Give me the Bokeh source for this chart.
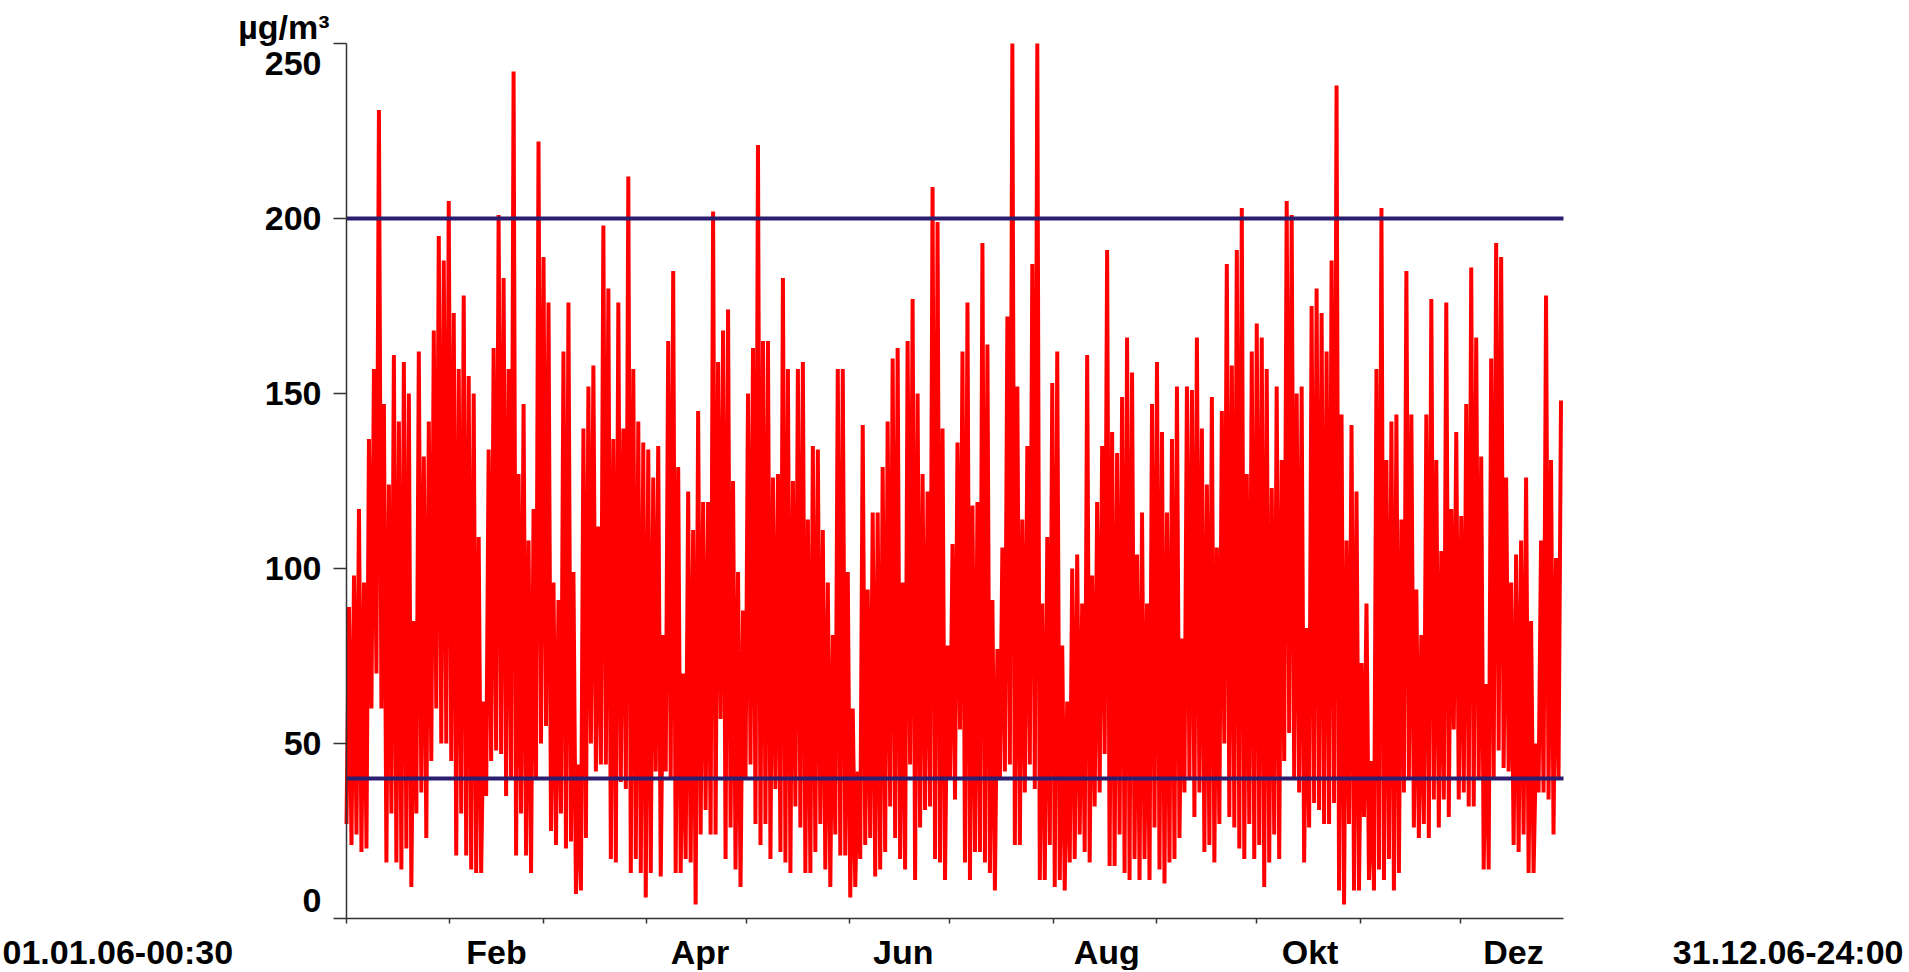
import numpy as np
from bokeh.plotting import figure
from bokeh.models import FixedTicker, Range1d
from bokeh.core.properties import value
from bokeh.embed import file_html
from bokeh.resources import INLINE

# Half-hourly series, read off the picture as alternating
# trough / peak values (one pair per ~1.5 days), in µg/m³
peaks = [89, 98, 117, 96, 137, 157, 231, 147, 124, 161,
         142, 159, 150, 85, 162, 132, 142, 168, 195, 188,
         205, 173, 157, 178, 155, 150, 109, 62, 134, 163,
         201, 183, 157, 242, 127, 147, 108, 117, 222, 189,
         176, 96, 91, 162, 176, 99, 44, 140, 152,
         158, 112, 198, 180, 137, 176, 140, 212, 157, 142,
         136, 134, 126, 135, 81, 165, 185, 129, 70, 122,
         111, 145, 119, 119, 202, 159, 168, 174, 125, 99,
         88, 150, 163, 221, 165, 165, 126, 127, 183, 157,
         125, 157, 159, 114, 135, 134, 111, 96, 81, 157,
         157, 99, 60, 42, 141, 94, 116, 116, 129, 142,
         160, 163, 96, 165, 177, 150, 127, 122, 209, 199,
         140, 78, 107, 136, 162, 176, 118, 119, 193, 164,
         91, 77, 106, 172, 250, 152, 114, 135, 187, 250,
         90, 109, 153, 162, 78, 62, 100, 104, 90, 161,
         98, 119, 135, 191, 139, 133, 149, 166, 156, 104,
         116, 90, 147, 159, 139, 116, 137, 152, 80, 152,
         151, 166, 140, 124, 149, 106, 145, 187, 158, 191,
         203, 127, 162, 170, 166, 157, 123, 152, 131, 205,
         201, 150, 152, 83, 175, 180, 173, 162,
         188, 238, 144, 108, 141, 122, 73, 90, 45, 157,
         203, 131, 142, 144, 114, 185, 144, 94, 81, 144,
         177, 131, 105, 176, 117, 139, 115, 147, 186, 166,
         132, 67, 160, 193, 189, 126, 96, 104, 108, 126,
         85, 50, 108, 178, 131, 103, 148]

troughs = [27, 21, 24, 19, 20, 60, 70, 60, 16, 30,
           16, 14, 20, 9, 30, 36, 23, 45, 60, 50,
           50, 45, 18, 30, 18, 14, 13, 13, 35, 45,
           48, 47, 35, 40, 18, 30, 18, 13, 40, 50,
           55, 25, 21, 30, 20, 22, 7, 8, 23,
           50, 42, 44, 44, 17, 16, 39, 37, 13, 17,
           13, 6, 13, 42, 12, 42, 40, 13, 13, 17,
           16, 4, 24, 31, 24, 24, 57, 17, 26, 14,
           9, 40, 44, 27, 21, 27, 17, 37, 19, 16,
           13, 32, 26, 13, 13, 19, 27, 14, 9, 24,
           18, 18, 6, 9, 17, 21, 23, 12, 14, 19,
           32, 23, 17, 14, 44, 11, 26, 31, 32, 17,
           16, 11, 40, 34, 54, 16, 11, 19, 19, 16,
           13, 8, 40, 42, 44, 21, 21, 36, 44, 37,
           11, 11, 21, 9, 11, 8, 16, 17, 24, 19,
           16, 32, 36, 47, 15, 15, 24, 13, 11, 17,
           11, 17, 11, 26, 14, 10, 16, 17, 23, 36,
           40, 29, 36, 19, 21, 16, 27, 50, 29, 26,
           20, 17, 27, 17, 21, 9, 16, 24, 17, 45,
           53, 40, 36, 16, 26, 33, 31, 27,
           27, 33, 8, 4, 27, 8, 8, 29, 11, 8,
           14, 11, 17, 8, 13, 36, 40, 26, 23, 27,
           23, 34, 26, 34, 29, 54, 34, 36, 32, 32,
           40, 14, 14, 40, 48, 43, 42, 21, 19, 24,
           13, 13, 36, 36, 34, 24, 40]

limit_values = [200, 40]
year_days = 365
month_starts = [0, 31, 59, 90, 120, 151, 181, 212, 243, 273, 304, 334]
label_days = [45, 106, 167, 228, 289, 350]
month_labels = ["Feb", "Apr", "Jun", "Aug", "Okt", "Dez"]
y_ticks = [0, 50, 100, 150, 200, 250]
start_label = "01.01.06-00:30"
end_label = "31.12.06-24:00"
unit_label = "µg/m³"

FONT = "Liberation Sans"
FS = "34px"
AX = "#333333"

# ---- page geometry (pixels) ----
W, H = 1905, 970
left_px, right_px = 346, 1563      # x pixel of day 0 and day 365
top_px, bottom_px = 43, 918        # y pixel of 250 and 0
ppd = (right_px - left_px) / year_days
ppu = (bottom_px - top_px) / y_ticks[-1]
x_rng = Range1d(-left_px / ppd, year_days + (W - right_px) / ppd)
y_rng = Range1d(-(H - bottom_px) / ppu, y_ticks[-1] + top_px / ppu)

n = len(peaks)
bw = year_days / n
xs = np.empty(2 * n)
ys = np.empty(2 * n)
xs[0::2] = np.arange(n) * bw
xs[1::2] = (np.arange(n) + 0.5) * bw
ys[0::2] = troughs
ys[1::2] = peaks

p = figure(width=W, height=H, x_range=x_rng, y_range=y_rng, title=None,
           output_backend="svg", toolbar_location=None,
           min_border_left=0, min_border_right=0,
           min_border_top=0, min_border_bottom=0)
p.grid.visible = False
p.outline_line_color = None
p.background_fill_color = "white"
p.border_fill_color = "white"

p.line(xs, ys, line_color="#FF0000", line_width=4)

p.segment(x0=[0] * len(limit_values), x1=[year_days] * len(limit_values),
          y0=limit_values, y1=limit_values,
          line_color="#2B1E6E", line_width=4)

xa = p.xaxis[0]
xa.fixed_location = 0
xa.bounds = (0, year_days)
xa.ticker = FixedTicker(ticks=label_days, minor_ticks=month_starts)
xa.major_label_overrides = {d: m for d, m in zip(label_days, month_labels)}
xa.major_tick_line_color = None
xa.major_tick_out = 5
xa.major_tick_in = 0
xa.minor_tick_out = 5
xa.minor_tick_in = 0
xa.minor_tick_line_color = AX
xa.minor_tick_line_width = 1.5
xa.axis_line_color = AX
xa.axis_line_width = 1.5
xa.major_label_text_font = FONT
xa.major_label_text_font_size = FS
xa.major_label_text_font_style = "bold"
xa.major_label_text_color = "black"
xa.major_label_standoff = 9

ya = p.yaxis[0]
ya.fixed_location = 0
ya.bounds = (0, y_ticks[-1])
ya.ticker = FixedTicker(ticks=y_ticks)
ya.major_label_overrides = {y_ticks[0]: "", y_ticks[-1]: ""}
ya.major_tick_out = 13
ya.major_tick_in = 0
ya.major_tick_line_color = AX
ya.major_tick_line_width = 1.5
ya.minor_tick_line_color = None
ya.axis_line_color = AX
ya.axis_line_width = 1.5
ya.major_label_text_font = FONT
ya.major_label_text_font_size = FS
ya.major_label_text_font_style = "bold"
ya.major_label_text_color = "black"
ya.major_label_standoff = 12

common = dict(text_font=value(FONT), text_font_size=FS,
              text_font_style="bold", text_color="black")

# end labels of the y axis sit inside the axis span
p.text(x=[0, 0], y=[y_ticks[-1], y_ticks[0]],
       text=[str(y_ticks[-1]), str(y_ticks[0])],
       x_offset=-25, y_offset=[20, -18],
       text_align="right", text_baseline="middle", **common)
# unit
p.text(x=[0], y=[y_ticks[-1]], text=[unit_label], x_offset=-17, y_offset=-17,
       text_align="right", text_baseline="middle", **common)
# start / end time stamps
p.text(x=[0], y=[0], text=[start_label], x_offset=-left_px + 2, y_offset=33,
       text_align="left", text_baseline="middle", **common)
p.text(x=[year_days], y=[0], text=[end_label], x_offset=W - right_px - 2,
       y_offset=33, text_align="right", text_baseline="middle", **common)

open("out.html", "w").write(file_html(p, INLINE))
